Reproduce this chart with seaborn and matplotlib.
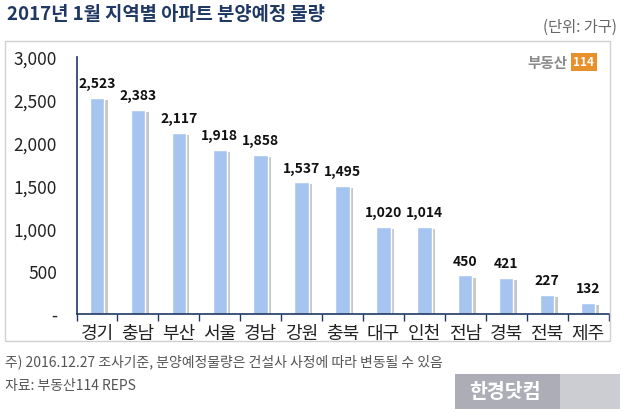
import matplotlib
matplotlib.use("Agg")
import matplotlib.pyplot as plt
import matplotlib.patheffects as pe
from matplotlib.patches import Rectangle
from matplotlib.ticker import FixedLocator, FuncFormatter
import seaborn as sns
import pandas as pd

regions = ["경기", "충남", "부산", "서울", "경남", "강원", "충북", "대구", "인천", "전남", "경북", "전북", "제주"]
values = [2523, 2383, 2117, 1918, 1858, 1537, 1495, 1020, 1014, 450, 421, 227, 132]
yticks = [0, 500, 1000, 1500, 2000, 2500, 3000]

title = "2017년 1월 지역별 아파트 분양예정 물량"
unit = "(단위: 가구)"
note1 = "주) 2016.12.27 조사기준, 분양예정물량은 건설사 사정에 따라 변동될 수 있음"
note2 = "자료: 부동산114 REPS"

sns.set_theme(style="white")
plt.rcParams['font.family'] = ['Noto Sans CJK KR', 'DejaVu Sans']

navy = "#1f3864"
bar_color = "#a6c4f0"

fig = plt.figure(figsize=(6.3, 4.14), dpi=100)
fig.patch.set_facecolor("white")

# outer box
fig.add_artist(Rectangle((5/630, 1-342/414), 605/630, 300/414, transform=fig.transFigure,
                         fill=False, edgecolor="#d0d0d0", linewidth=1.0))

ax = fig.add_axes([76.5/630, 1-315/414, 532/630, 257/414])
df = pd.DataFrame({"region": regions, "value": values})
sns.barplot(data=df, x="region", y="value", color=bar_color, width=0.35, ax=ax,
            saturation=1)
for p in ax.patches:
    p.set_path_effects([pe.SimplePatchShadow(offset=(2.5, -1.5), shadow_rgbFace="#999999", alpha=0.55),
                        pe.Normal()])

ax.set_xlim(-0.5, len(regions) - 0.5)
ax.set_ylim(0, 3000)
ax.set_xlabel("")
ax.set_ylabel("")
ax.yaxis.set_major_locator(FixedLocator(yticks))
ax.yaxis.set_major_formatter(FuncFormatter(lambda v, _: "-" if v == 0 else f"{int(v):,}"))
ax.tick_params(axis="y", which="major", direction="out", length=5, width=1, color=navy,
               labelsize=12.5, labelcolor="#222222", pad=9)
ax.tick_params(axis="x", which="major", length=0, labelsize=13, labelcolor="#222222", pad=7)
ax.set_xticks([i + 0.5 for i in range(-1, len(regions))], minor=True)
ax.tick_params(axis="x", which="minor", direction="out", length=5, width=1, color=navy, bottom=True)

for s in ["top", "right"]:
    ax.spines[s].set_visible(False)
for s in ["left", "bottom"]:
    ax.spines[s].set_color(navy)
    ax.spines[s].set_linewidth(1.2)

for i, v in enumerate(values):
    ax.text(i, v + 90, f"{v:,}", ha="center", va="bottom", fontsize=10, fontweight="bold",
            color="#111111")

fig.text(7/630, 1-15/414, title, fontsize=13.5, fontweight="bold", color=navy, va="center", ha="left")
fig.text(617/630, 1-27/414, unit, fontsize=11, color="#666666", va="center", ha="right")

# logo
fig.text(567/630, 1-63/414, "부동산", fontsize=10.5, fontweight="bold", color="#8a8a8a", va="center", ha="right")
fig.text(584/630, 1-63/414, "114", fontsize=8.5, fontweight="bold", color="white", va="center", ha="center",
         bbox=dict(boxstyle="square,pad=0.2", facecolor="#e8912c", edgecolor="none"))

fig.text(5/630, 1-362/414, note1, fontsize=10, color="#555555", va="center", ha="left")
fig.text(5/630, 1-386/414, note2, fontsize=10, color="#555555", va="center", ha="left")

# watermark
fig.add_artist(Rectangle((455/630, 1-410/414), 165/630, 35/414, transform=fig.transFigure,
                         facecolor="#c4c4cc", edgecolor="none", alpha=0.85))
fig.add_artist(Rectangle((455/630, 1-410/414), 105/630, 35/414, transform=fig.transFigure,
                         facecolor="#a8a8b4", edgecolor="none", alpha=0.85))
fig.text(505/630, 1-392/414, "한경닷컴", fontsize=14, fontweight="bold", color="white", va="center", ha="center")

fig.savefig("out.png", dpi=100)
